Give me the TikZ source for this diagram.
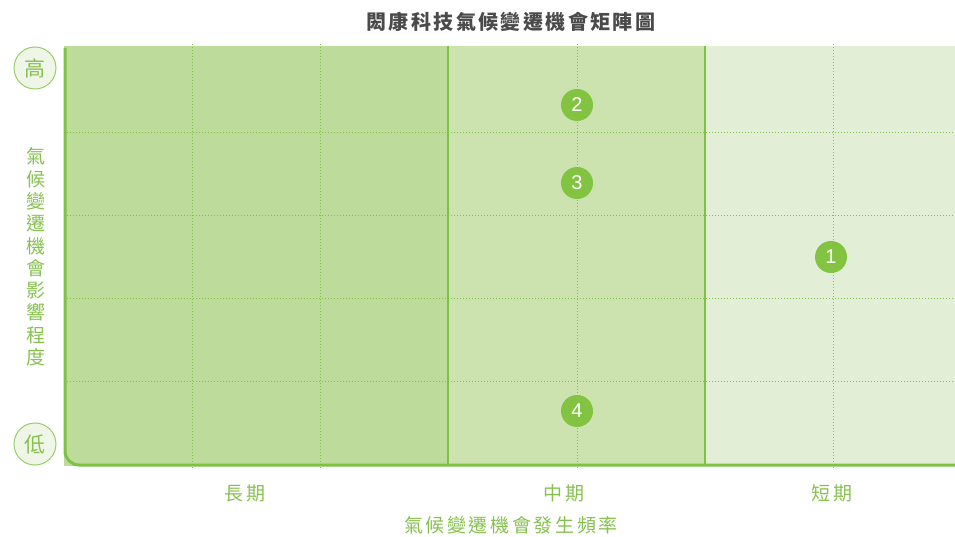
\documentclass[tikz,border=0pt]{standalone}
\usepackage{fontspec}
\setmainfont{Liberation Sans}
\newfontfamily\cjk{Noto Sans CJK TC}
\definecolor{darkfill}{HTML}{BDDB9B}
\definecolor{midfill}{HTML}{CCE3B0}
\definecolor{lightfill}{HTML}{E2EFD6}
\definecolor{gline}{HTML}{7DC242}
\definecolor{gtext}{HTML}{86C150}
\definecolor{circfill}{HTML}{82C341}
\definecolor{lvlfill}{HTML}{EFF6E8}
\definecolor{lvlline}{HTML}{9ACD6A}
\definecolor{titlegray}{HTML}{4A4A4A}
\tikzset{
  dotgrid/.style={gline, line width=0.9pt, dash pattern=on 1pt off 2pt},
  solidsep/.style={gline, line width=1.5pt},
  axisline/.style={gline, line width=3pt},
  numdot/.style={circle, fill=circfill, minimum size=32pt, inner sep=0pt, text=white, font=\fontsize{20}{20}\selectfont},
  lvl/.style={circle, fill=lvlfill, draw=lvlline, line width=1pt, minimum size=42pt, inner sep=0pt, text=gtext, font=\cjk\fontsize{21}{21}\selectfont},
  ticklab/.style={text=gtext, font=\cjk\fontsize{19}{19}\selectfont\addfontfeatures{LetterSpace=14}},
}
\begin{document}
\begin{tikzpicture}[x=1pt,y=-1pt]
\useasboundingbox (0,0) rectangle (955,537);
% regions
\fill[darkfill] (64,46) rectangle (448,466);
\fill[midfill] (448,46) rectangle (705,466);
\fill[lightfill] (705,46) rectangle (955,466);
% dotted grid
\foreach \yy in {132,215,298,381} \draw[dotgrid] (64,\yy) -- (955,\yy);
\foreach \xx in {192,320,577,833} \draw[dotgrid] (\xx,44) -- (\xx,468);
% solid separators
\draw[solidsep] (448,46) -- (448,466);
\draw[solidsep] (705,46) -- (705,466);
% axes
\draw[axisline, rounded corners=14pt] (65,48) -- (65,465) -- (955,465);
% title
\node[text=titlegray, font=\cjk\bfseries\fontsize{20}{20}\selectfont\addfontfeatures{LetterSpace=12}] (title) at (511,22) {閎康科技氣候變遷機會矩陣圖};
% level circles
\node[lvl] (hi) at (35,68) {高};
\node[lvl] (lo) at (35,444) {低};
% vertical axis label
\node[text=gtext, font=\cjk\fontsize{19}{22.3}\selectfont, align=center, inner sep=0pt] (ylab) at (36,257) {氣\\候\\變\\遷\\機\\會\\影\\響\\程\\度};
% bottom labels
\node[ticklab] (long) at (245,493) {長期};
\node[ticklab] (mid) at (564,493) {中期};
\node[ticklab] (short) at (832,493) {短期};
\node[ticklab] (xlab) at (511,525) {氣候變遷機會發生頻率};
% numbered points
\node[numdot] (p2) at (577,105) {2};
\node[numdot] (p3) at (577,183) {3};
\node[numdot] (p1) at (831,257) {1};
\node[numdot] (p4) at (577,411) {4};
\end{tikzpicture}
\end{document}
